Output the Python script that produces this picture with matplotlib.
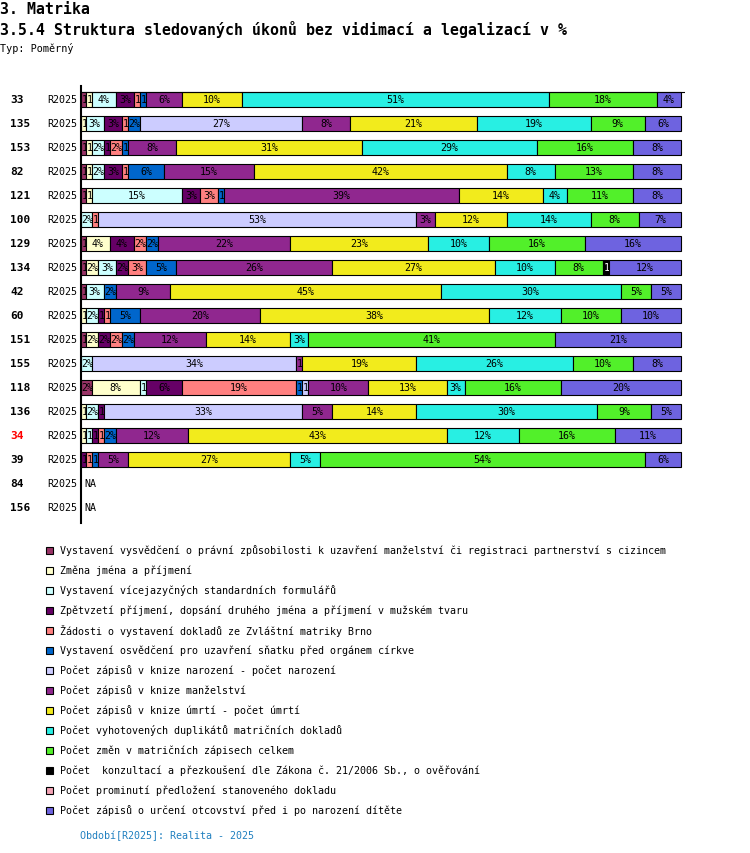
import numpy as np
import matplotlib
matplotlib.use("Agg")
import matplotlib.pyplot as plt
from matplotlib.patches import Rectangle
from matplotlib.transforms import blended_transform_factory, Bbox, TransformedBbox

plt.rcParams['font.family'] = ['DejaVu Sans Mono']

# radky grafu (cislo matriky) a obdobi
row_ids = ['33', '135', '153', '82', '121', '100', '129', '134', '42', '60',
           '151', '155', '118', '136', '34', '39', '84', '156']
row_red = ['34']
period = 'R2025'

categories = [
    'Vystavení vysvědčení o právní způsobilosti k uzavření manželství či registraci partnerství s cizincem',
    'Změna jména a příjmení',
    'Vystavení vícejazyčných standardních formulářů',
    'Zpětvzetí příjmení, dopsání druhého jména a příjmení v mužském tvaru',
    'Žádosti o vystavení dokladů ze Zvláštní matriky Brno',
    'Vystavení osvědčení pro uzavření sňatku před orgánem církve',
    'Počet zápisů v knize narození - počet narození',
    'Počet zápisů v knize manželství',
    'Počet zápisů v knize úmrtí - počet úmrtí',
    'Počet vyhotovených duplikátů matričních dokladů',
    'Počet změn v matričních zápisech celkem',
    'Počet  konzultací a přezkoušení dle Zákona č. 21/2006 Sb., o ověřování',
    'Počet prominutí předložení stanoveného dokladu',
    'Počet zápisů o určení otcovství před i po narození dítěte',
]
colors = ['#993366', '#FFFFCC', '#CCFFFF', '#660066', '#FF8080', '#0066CC', '#CCCCFF',
          '#90278F', '#F2EB1C', '#28EFE3', '#52F02A', '#000000', '#F4A3B5', '#6E63E0']

# hodnoty v % pro jednotlive radky (posledni dva radky = NA)
vysvedceni  = [0.8, 0, 0.8, 0.8, 0.8, 0, 0.8, 0.8, 0.8, 0, 0.8, 0, 1.8, 0, 0, 0, None, None]
zmena_jmena = [1, 0.8, 1, 1, 1, 0, 4, 2, 0, 0.8, 2, 0, 8, 0.8, 0.8, 0, None, None]
formulare   = [4, 3, 2, 2, 15, 1.8, 0, 3, 3, 2, 0, 1.8, 1, 2, 1, 0, None, None]
zpetvzeti   = [3, 3, 1, 3, 3, 0, 4, 2, 0, 1, 2, 0, 6, 1, 1, 0.8, None, None]
zadosti     = [1, 1, 2, 1, 3, 1, 2, 3, 0, 1, 2, 0, 19, 0, 1, 1, None, None]
osvedceni   = [1, 2, 1, 6, 1, 0, 2, 5, 2, 5, 2, 0, 1, 0, 2, 1, None, None]
narozeni    = [0, 27, 0, 0, 0, 53, 0, 0, 0, 0, 0, 34, 1, 33, 0, 0, None, None]
manzelstvi  = [6, 8, 8, 15, 39, 3, 22, 26, 9, 20, 12, 1, 10, 5, 12, 5, None, None]
umrti       = [10, 21, 31, 42, 14, 12, 23, 27, 45, 38, 14, 19, 13, 14, 43, 27, None, None]
duplikaty   = [51, 19, 29, 8, 4, 14, 10, 10, 30, 12, 3, 26, 3, 30, 12, 5, None, None]
zmeny       = [18, 9, 16, 13, 11, 8, 16, 8, 5, 10, 41, 10, 16, 9, 16, 54, None, None]
konzultace  = [0, 0, 0, 0, 0, 0, 0, 1, 0, 0, 0, 0, 0, 0, 0, 0, None, None]
prominuti   = [0, 0, 0, 0, 0, 0, 0, 0, 0, 0, 0, 0, 0, 0, 0, 0, None, None]
otcovstvi   = [4, 6, 8, 8, 8, 7, 16, 12, 5, 10, 21, 8, 20, 5, 11, 6, None, None]

series = [vysvedceni, zmena_jmena, formulare, zpetvzeti, zadosti, osvedceni, narozeni,
          manzelstvi, umrti, duplikaty, zmeny, konzultace, prominuti, otcovstvi]

W, H = 750, 854
fig = plt.figure(figsize=(W / 100, H / 100), dpi=100)


def fx(x):
    return x / W


def fy(y):
    return 1 - y / H


# nadpisy
fig.text(0, fy(9), '3. Matrika', fontsize=10.7, fontweight='bold', va='center')
fig.text(0, fy(30), '3.5.4 Struktura sledovaných úkonů bez vidimací a legalizací v %',
         fontsize=10.7, fontweight='bold', va='center')
fig.text(0, fy(48), 'Typ: Poměrný', fontsize=7.3, va='center')

ax = fig.add_axes([fx(81), fy(524), fx(685) - fx(81), (524 - 87) / H])
ax.set_xlim(0, 100 * 604 / 600)
ax.set_ylim((524 - 100) / 24, (87 - 100) / 24)
for s in ['top', 'right', 'bottom']:
    ax.spines[s].set_visible(False)
ax.spines['left'].set_linewidth(1.5)
ax.set_xticks([])
ax.set_yticks([])

renderer = fig.canvas.get_renderer()
bar_h = 0.625
small = 7.2

for i, rid in enumerate(row_ids):
    vals = [s[i] for s in series]
    if vals[0] is None:
        ax.text(0.5, i, 'NA', fontsize=small, va='center', ha='left')
        continue
    total = sum(vals)
    left = 0
    for j, v in enumerate(vals):
        if v <= 0:
            continue
        p = v / total * 100
        ax.barh(i, p, left=left, height=bar_h, color=colors[j],
                edgecolor='black', linewidth=0.8)
        txt = f'{round(p)}%'
        tcol = 'white' if colors[j] == '#000000' else 'black'
        t = ax.text(left + p / 2, i, txt, fontsize=small, ha='center', va='center', color=tcol)
        tw = t.get_window_extent(renderer).width
        rw = ax.transData.transform((p, 0))[0] - ax.transData.transform((0, 0))[0]
        if tw > rw - 1:
            # nevejde se: zkratit a zarovnat vlevo
            cw = tw / len(txt)
            n = max(1, round(rw / cw))
            t.set_text(txt[:n])
            t.set_x(left + 0.1)
            t.set_ha('left')
        box = TransformedBbox(Bbox.from_bounds(left, i - bar_h / 2, p, bar_h), ax.transData)
        t.set_clip_box(box)
        t.set_clip_on(True)
        left += p

ax.axhline(-bar_h / 2, color='black', linewidth=0.8)

# popisky radku
tr = blended_transform_factory(fig.transFigure, ax.transData)
for i, rid in enumerate(row_ids):
    ax.text(fx(10), i, rid, transform=tr, fontsize=8, fontweight='bold', va='center',
            ha='left', color='red' if rid in row_red else 'black')
    ax.text(fx(47.5), i, period, transform=tr, fontsize=small, va='center', ha='left')

# legenda
for j, name in enumerate(categories):
    yc = 551 + 20 * j
    fig.patches.append(Rectangle((fx(45.5), fy(yc + 3.5)), 7 / W, 7 / H,
                                 transform=fig.transFigure, facecolor=colors[j],
                                 edgecolor='black', linewidth=0.8))
    fig.text(fx(60), fy(yc), name, fontsize=small, va='center')

fig.text(fx(80), fy(836), 'Období[R2025]: Realita - 2025', fontsize=small,
         va='center', color='#2080C0')

fig.savefig('out.png', dpi=100)
